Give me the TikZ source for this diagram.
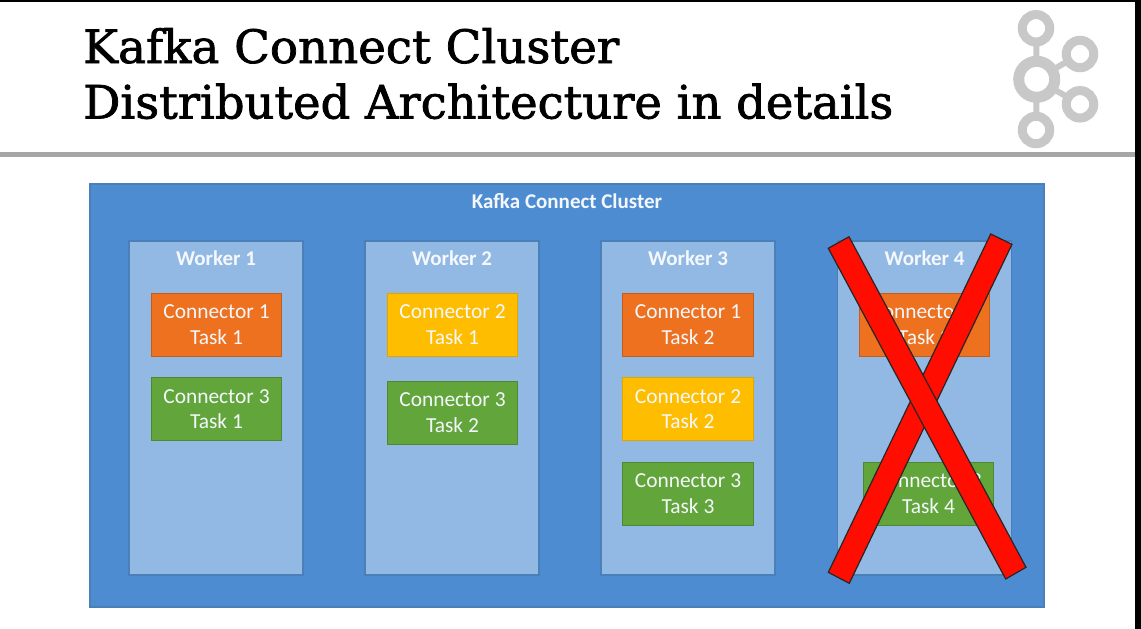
\documentclass[tikz,border=0pt]{standalone}
\usepackage{fontspec}
\usepackage{graphicx}
\setmainfont{Carlito}
\newfontfamily\titlefont[BoldFont={DejaVu Serif},BoldFeatures={FakeBold=1.6}]{DejaVu Serif}
\definecolor{clusterblue}{HTML}{4E8CD2}
\definecolor{edgeblue}{HTML}{4A7FB8}
\definecolor{workerblue}{HTML}{92B8E4}
\definecolor{taskorange}{HTML}{EE7120}
\definecolor{taskyellow}{HTML}{FFBD00}
\definecolor{taskgreen}{HTML}{62A53B}
\definecolor{logogray}{HTML}{C8C8C8}
\definecolor{barred}{HTML}{FF0D00}
\definecolor{textwhite}{HTML}{F4F8FC}
\tikzset{
  clusterbox/.style={draw=edgeblue,line width=1.2pt,fill=clusterblue,inner sep=0pt,outer sep=0pt,minimum width=954pt,minimum height=423pt},
  workerbox/.style={draw=edgeblue,line width=1.3pt,fill=workerblue,inner sep=0pt,outer sep=0pt,minimum width=174pt,minimum height=334pt},
  taskbox/.style={line width=1.2pt,inner sep=0pt,outer sep=0pt,minimum width=130.5pt,minimum height=63pt,align=center,text=textwhite,font=\fontsize{21.4}{25.2}\selectfont},
  orangetask/.style={taskbox,draw=taskorange!82!black,fill=taskorange},
  yellowtask/.style={taskbox,draw=taskyellow!88!black,fill=taskyellow},
  greentask/.style={taskbox,draw=taskgreen!82!black,fill=taskgreen},
  headtext/.style={inner sep=0pt,text=textwhite,font=\fontsize{21}{24}\selectfont\bfseries},
  titletext/.style={inner sep=0pt,anchor=base west,text=black,font=\fontsize{46}{50}\selectfont\titlefont\bfseries},
  ringbig/.style={circle,draw=logogray,line width=11pt,fill=white,minimum size=36pt,inner sep=0pt,outer sep=0pt},
  ringsmall/.style={circle,draw=logogray,line width=9pt,fill=white,minimum size=27.5pt,inner sep=0pt,outer sep=0pt},
  logolink/.style={draw=logogray,line width=6pt},
  crossbar/.style={draw=black!85,line width=1.2pt,fill=barred,line join=miter}
}
\begin{document}
\begin{tikzpicture}[x=1pt,y=-1pt]
\useasboundingbox (0,0) rectangle (1141,629);
\fill[white] (0,0) rectangle (1141,629);
% slide frame
\fill[black] (0,0) rectangle (1141,2.2);
\fill[black] (1135,0) rectangle (1141,629);
\fill[black!35] (0,152) rectangle (1135,156.5);
% title
\node[titletext] (title1) at (83,63) {\resizebox{536pt}{\height}{Kafka Connect Cluster}};
\node[titletext] (title2) at (83,118.5) {\resizebox{810pt}{\height}{Distributed Architecture in details}};
% logo
\node[ringbig] (hub) at (1036.7,79.3) {};
\node[ringsmall] (top) at (1036,28.3) {};
\node[ringsmall] (upper) at (1080,54) {};
\node[ringsmall] (lower) at (1080,104.3) {};
\node[ringsmall] (bottom) at (1036,130) {};
\draw[logolink] (hub) -- (top);
\draw[logolink] (hub) -- (upper);
\draw[logolink] (hub) -- (lower);
\draw[logolink] (hub) -- (bottom);
% cluster
\node[clusterbox] (cluster) at (567,395.5) {};
\node[headtext] (clusterhead) at (567,201.5) {Kafka Connect Cluster};
% workers
\node[workerbox] (w1) at (216,408) {};
\node[workerbox] (w2) at (452,408) {};
\node[workerbox] (w3) at (688,408) {};
\node[workerbox] (w4) at (924.5,408) {};
\node[headtext] (w1head) at (216,258) {Worker 1};
\node[headtext] (w2head) at (452,258) {Worker 2};
\node[headtext] (w3head) at (688,258) {Worker 3};
\node[headtext] (w4head) at (924.5,258) {Worker 4};
% tasks
\node[orangetask] (w1a) at (216.5,324.7) {Connector 1\\Task 1};
\node[greentask] (w1b) at (216.5,409.2) {Connector 3\\Task 1};
\node[yellowtask] (w2a) at (452.5,324.7) {Connector 2\\Task 1};
\node[greentask] (w2b) at (452.5,412.7) {Connector 3\\Task 2};
\node[orangetask] (w3a) at (688,324.7) {Connector 1\\Task 2};
\node[yellowtask] (w3b) at (688,409.2) {Connector 2\\Task 2};
\node[greentask] (w3c) at (688,493.7) {Connector 3\\Task 3};
\node[orangetask] (w4a) at (924.5,324.7) {Connector 1\\Task 3};
\node[greentask] (w4b) at (928.5,493.7) {Connector 3\\Task 4};
% red cross
\draw[crossbar] (990.7,234) -- (1012,244.3) -- (849.3,583.3) -- (828.3,572.3) -- cycle;
\draw[crossbar] (828.3,248.3) -- (849,236.7) -- (1026,567.3) -- (1005.7,579) -- cycle;
\end{tikzpicture}
\end{document}
